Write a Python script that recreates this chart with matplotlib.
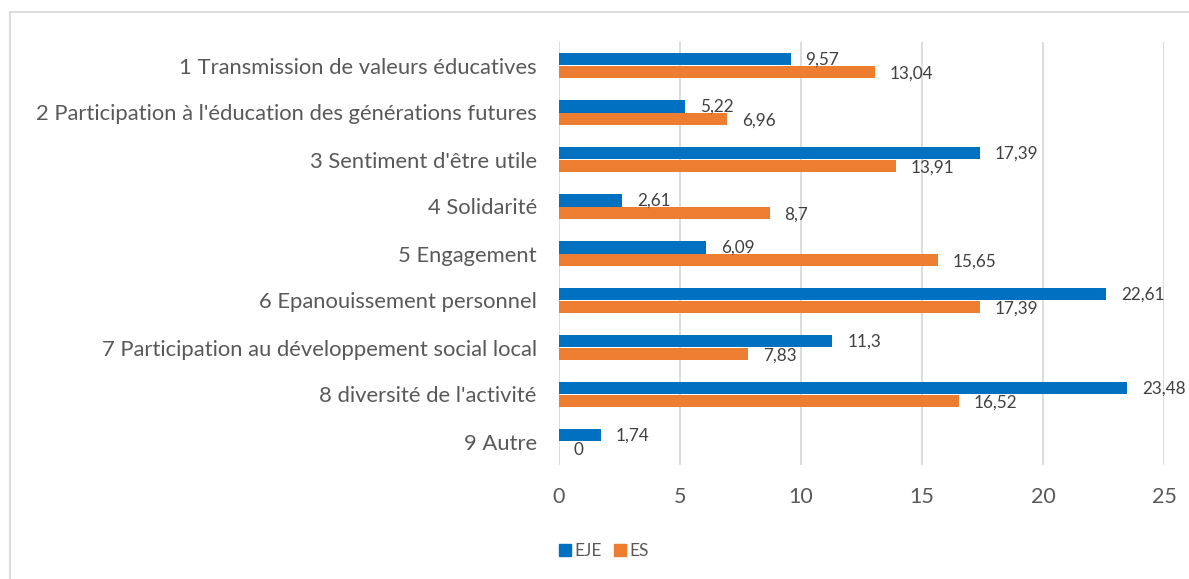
import numpy as np
import matplotlib.pyplot as plt
from matplotlib.lines import Line2D

categories = ["1 Transmission de valeurs éducatives",
              "2 Participation à l'éducation des générations futures",
              "3 Sentiment d'être utile",
              "4 Solidarité",
              "5 Engagement",
              "6 Epanouissement personnel",
              "7 Participation au développement social local",
              "8 diversité de l'activité",
              "9 Autre"]
eje = [9.57, 5.22, 17.39, 2.61, 6.09, 22.61, 11.3, 23.48, 1.74]
es = [13.04, 6.96, 13.91, 8.7, 15.65, 17.39, 7.83, 16.52, 0]
series_names = ["EJE", "ES"]
xticks = [0, 5, 10, 15, 20, 25]

blue = '#0070C0'
orange = '#ED7D31'
txt = '#595959'
plt.rcParams['font.family'] = ['Lato', 'DejaVu Sans']

fig = plt.figure(figsize=(11.89, 5.79), dpi=100)
ax = fig.add_axes([559/1189, 1-465/579, 605/1189, 423/579])

y = np.arange(len(categories))
h = 0.265
ax.barh(y - h/2, eje, height=h, color=blue, label=series_names[0], zorder=3)
ax.barh(y + h/2, es, height=h, color=orange, label=series_names[1], zorder=3)

def fmt(v):
    return f'{v:g}'.replace('.', ',')

for yi, v in zip(y, eje):
    ax.annotate(fmt(v), (v, yi - h/2), xytext=(15, 0), textcoords='offset pixels',
                ha='left', va='center', fontsize=12.3, color='#404040')
for yi, v in zip(y, es):
    ax.annotate(fmt(v), (v, yi + h/2), xytext=(15, -2), textcoords='offset pixels',
                ha='left', va='center', fontsize=12.3, color='#404040')

ax.set_ylim(len(categories) - 0.5, -0.5)
ax.set_xlim(0, 25)
ax.set_xticks(xticks)
ax.set_yticks(y)
ax.set_yticklabels(categories)
ax.tick_params(axis='y', length=0, pad=16, labelsize=15.8, labelcolor=txt)
ax.tick_params(axis='x', length=0, pad=16, labelsize=15.5, labelcolor=txt)
ax.grid(axis='x', color='#D9D9D9', lw=1.3, zorder=0)
for s in ax.spines.values():
    s.set_visible(False)

handles = [Line2D([], [], marker='s', ls='', color=blue, markersize=8.5),
           Line2D([], [], marker='s', ls='', color=orange, markersize=8.5)]
fig.legend(handles, series_names, loc='center left', bbox_to_anchor=(541/1189, 1-551/579),
           ncol=2, frameon=False, fontsize=12.5, handletextpad=0.0, columnspacing=0.6,
           labelcolor=txt, handlelength=1.0)

# chart area border
fig.add_artist(Line2D([10/1189, 1], [1-12/579, 1-12/579], color='#D9D9D9', lw=1.3))
fig.add_artist(Line2D([10/1189, 10/1189], [0, 1-12/579], color='#D9D9D9', lw=1.3))

plt.savefig('out.png')
